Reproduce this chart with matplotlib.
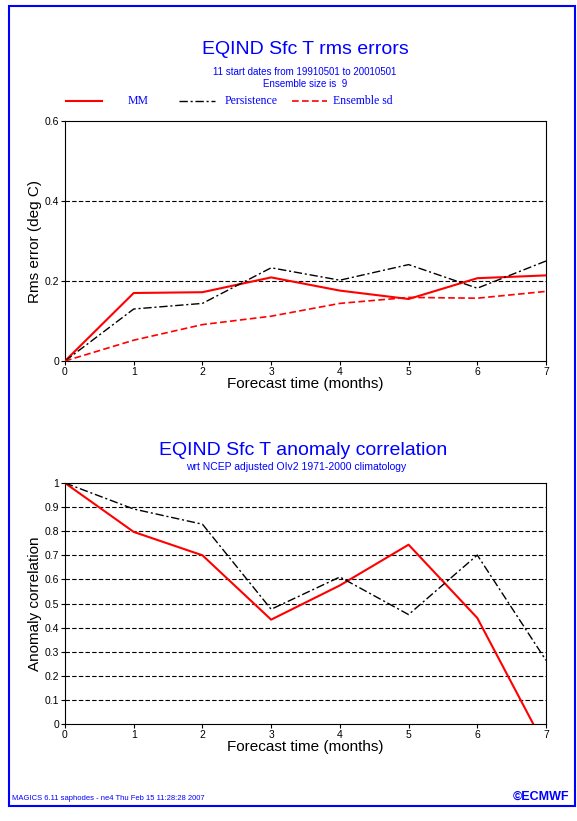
import numpy as np
import matplotlib
matplotlib.use("Agg")
import matplotlib.pyplot as plt
from matplotlib.patches import Rectangle

plt.rcParams['font.family'] = ['Liberation Sans', 'DejaVu Sans']

# data
months = [0, 1, 2, 3, 4, 5, 6, 7]
rms_mm = [0.0, 0.170, 0.172, 0.209, 0.176, 0.155, 0.207, 0.214]
rms_persist = [0.0, 0.130, 0.144, 0.233, 0.202, 0.241, 0.182, 0.250]
rms_ens_sd = [0.0, 0.052, 0.091, 0.112, 0.144, 0.159, 0.157, 0.174]

acc_mm = [1.0, 0.797, 0.700, 0.433, 0.575, 0.744, 0.440, -0.10]
acc_persist = [1.0, 0.892, 0.829, 0.476, 0.610, 0.454, 0.701, 0.264]

rms_ticks = [0, 0.2, 0.4, 0.6]
rms_ticklabels = ["0", "0.2", "0.4", "0.6"]
acc_ticks = [0, 0.1, 0.2, 0.3, 0.4, 0.5, 0.6, 0.7, 0.8, 0.9, 1.0]
acc_ticklabels = ["0", "0.1", "0.2", "0.3", "0.4", "0.5", "0.6", "0.7", "0.8", "0.9", "1"]

W, H = 577, 821
fig = plt.figure(figsize=(W / 100, H / 100), dpi=100)
fig.patch.set_facecolor("white")

blue = "#0000ff"
red = "#ff0000"


def fx(px):
    return px / W


def fy(py):
    return 1 - py / H


def style_axes(ax, yticks, ylabels, ytop, ylabel):
    ax.set_xlim(0, 7)
    ax.set_ylim(0, ytop)
    ax.set_xticks(months)
    ax.set_xticklabels([str(m) for m in months])
    ax.set_yticks(yticks)
    ax.set_yticklabels(ylabels)
    ax.tick_params(direction="out", length=3, width=0.8, labelsize=7.5, pad=1)
    for s in ax.spines.values():
        s.set_linewidth(0.8)
    for yv in yticks[1:-1]:
        ax.axhline(yv, color="black", lw=0.8, ls=(0, (4, 2)), zorder=1)
    ax.set_xlabel("Forecast time (months)", fontsize=11, labelpad=0)
    ax.set_ylabel(ylabel, fontsize=11)
    ax.yaxis.set_label_coords(-0.047, 0.5)


# top panel: rms errors
ax1 = fig.add_axes([fx(65), fy(361), fx(546) - fx(65), fy(121) - fy(361)])
ax1.plot(months, rms_mm, color=red, lw=1.5, zorder=3)
ax1.plot(months, rms_persist, color="black", lw=1.0, ls=(0, (6, 2, 1.5, 2)), zorder=3)
ax1.plot(months, rms_ens_sd, color=red, lw=1.2, ls=(0, (4, 2)), zorder=3)
style_axes(ax1, rms_ticks, rms_ticklabels, 0.6, "Rms error (deg C)")

fig.text(fx(305), fy(50), "EQIND Sfc T rms errors", color=blue, fontsize=14,
         ha="center", va="center")
fig.text(fx(305), fy(72), "11 start dates from 19910501 to 20010501", color=blue,
         fontsize=7, ha="center", va="center")
fig.text(fx(305), fy(84), "Ensemble size is  9", color=blue, fontsize=7,
         ha="center", va="center")

# legend drawn by hand in figure coordinates
leg_y = fy(101)
legend_items = [
    ("MM", red, "-", 1.5, 66, 102, 128),
    ("Persistence", "black", (0, (6, 2, 1.5, 2)), 1.0, 179, 215, 225),
    ("Ensemble sd", red, (0, (4, 2)), 1.2, 292, 327, 333),
]
for label, col, ls, lw, x0, x1, xt in legend_items:
    fig.add_artist(plt.Line2D([fx(x0), fx(x1)], [leg_y, leg_y], color=col, ls=ls, lw=lw))
    fig.text(fx(xt), leg_y, label, color=blue, fontsize=8.5, va="center",
             family=["Liberation Serif", "DejaVu Serif"])

# bottom panel: anomaly correlation
ax2 = fig.add_axes([fx(65), fy(724), fx(546) - fx(65), fy(483) - fy(724)])
ax2.plot(months, acc_mm, color=red, lw=1.5, zorder=3)
ax2.plot(months, acc_persist, color="black", lw=1.0, ls=(0, (6, 2, 1.5, 2)), zorder=3)
style_axes(ax2, acc_ticks, acc_ticklabels, 1.0, "Anomaly correlation")

fig.text(fx(303), fy(450), "EQIND Sfc T anomaly correlation", color=blue, fontsize=14,
         ha="center", va="center")
fig.text(fx(296), fy(467), "wrt NCEP adjusted OIv2 1971-2000 climatology", color=blue,
         fontsize=7.5, ha="center", va="center")

# page frame and footer
fig.add_artist(Rectangle((fx(9), fy(806)), fx(575) - fx(9), fy(6) - fy(806),
                         transform=fig.transFigure, fill=False, edgecolor=blue, lw=1.5))
fig.text(fx(12), fy(798), "MAGICS 6.11 saphodes - ne4 Thu Feb 15 11:28:28 2007",
         color=blue, fontsize=5.5, va="center")
fig.text(fx(569), fy(797), "\u00a9ECMWF", color=blue, fontsize=9, fontweight="bold",
         ha="right", va="center")

fig.savefig("out.png", dpi=100)
